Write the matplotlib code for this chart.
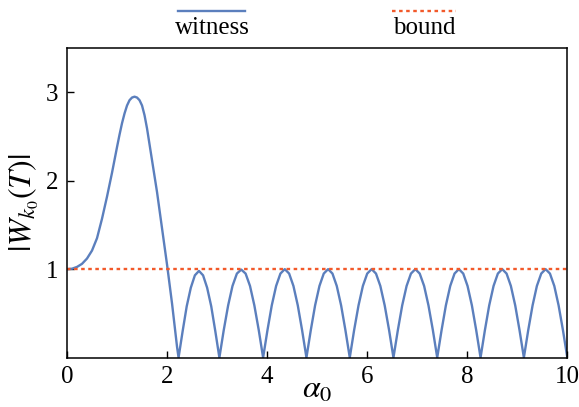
import numpy as np
import matplotlib
matplotlib.use("Agg")
import matplotlib.pyplot as plt
from matplotlib.lines import Line2D

plt.rcParams['font.family'] = 'Liberation Serif'
plt.rcParams['mathtext.fontset'] = 'stix'

# witness curve
# first hump
hump_x = [0.0, 0.1, 0.2, 0.3, 0.4, 0.5, 0.6, 0.7, 0.8, 0.9, 1.0, 1.05, 1.1, 1.15, 1.2, 1.25,
          1.3, 1.35, 1.4, 1.45, 1.5, 1.55, 1.6, 1.7, 1.8, 1.9, 2.0, 2.1, 2.2, 2.23]
hump_y = [1.0, 1.005, 1.025, 1.06, 1.12, 1.21, 1.35, 1.57, 1.82, 2.09, 2.38, 2.52, 2.65, 2.76, 2.85, 2.91,
          2.94, 2.95, 2.94, 2.91, 2.85, 2.74, 2.59, 2.23, 1.87, 1.46, 1.05, 0.61, 0.12, 0.0]

# the oscillating tail (arches between zeros)
tail_x = [2.312, 2.393, 2.475, 2.556, 2.638, 2.72, 2.801, 2.883, 2.964, 3.046,
          3.133, 3.221, 3.308, 3.396, 3.483, 3.57, 3.658, 3.745, 3.833, 3.92,
          4.007, 4.093, 4.18, 4.266, 4.353, 4.44, 4.526, 4.613, 4.699, 4.786,
          4.873, 4.959, 5.046, 5.132, 5.219, 5.306, 5.392, 5.479, 5.565, 5.652,
          5.739, 5.827, 5.914, 6.001, 6.089, 6.176, 6.263, 6.35, 6.438, 6.525,
          6.613, 6.7, 6.788, 6.875, 6.963, 7.05, 7.138, 7.225, 7.313, 7.40,
          7.487, 7.573, 7.66, 7.746, 7.833, 7.92, 8.006, 8.093, 8.179, 8.266,
          8.353, 8.439, 8.526, 8.612, 8.699, 8.786, 8.872, 8.959, 9.045, 9.132,
          9.219, 9.306, 9.392, 9.479, 9.566, 9.653, 9.74, 9.826, 9.913, 10.0]
tail_y = [0.30, 0.58, 0.79, 0.93, 0.98, 0.93, 0.79, 0.58, 0.30, 0.0,
          0.31, 0.59, 0.81, 0.95, 0.995, 0.95, 0.81, 0.59, 0.31, 0.0,
          0.31, 0.59, 0.81, 0.95, 1.0, 0.95, 0.81, 0.59, 0.31, 0.0,
          0.31, 0.59, 0.81, 0.95, 1.0, 0.95, 0.81, 0.59, 0.31, 0.0,
          0.31, 0.59, 0.81, 0.95, 1.0, 0.95, 0.81, 0.59, 0.31, 0.0,
          0.31, 0.59, 0.81, 0.95, 1.0, 0.95, 0.81, 0.59, 0.31, 0.0,
          0.31, 0.59, 0.81, 0.95, 1.0, 0.95, 0.81, 0.59, 0.31, 0.0,
          0.31, 0.59, 0.81, 0.95, 1.0, 0.95, 0.81, 0.59, 0.31, 0.0,
          0.31, 0.59, 0.81, 0.95, 1.0, 0.95, 0.81, 0.59, 0.31, 0.0]

bound_x = [0.0, 10.0]
bound_y = [1.0, 1.0]

x_ticks = [0, 2, 4, 6, 8, 10]
y_ticks = [1, 2, 3]

blue = '#5b7fbd'
orange = '#f2592a'

fig = plt.figure(figsize=(5.79, 4.07), dpi=100)
ax = fig.add_axes([0.1157, 0.1214, 0.8641, 0.7606])

ax.plot(hump_x + tail_x, hump_y + tail_y, color=blue, lw=1.7, solid_joinstyle='round')
ax.plot(bound_x, bound_y, color=orange, lw=1.7, ls=(0, (1.5, 1.5)))

ax.set_xlim(0, 10)
ax.set_ylim(0, 3.5)
ax.set_xticks(x_ticks)
ax.set_yticks(y_ticks)
ax.tick_params(direction='in', length=5, width=1, labelsize=18, pad=6)
for s in ax.spines.values():
    s.set_linewidth(1.1)

ax.set_xlabel(r'$\alpha_0$', fontsize=23, labelpad=-9)
ax.set_ylabel(r'$|W_{k_0}(T)|$', fontsize=23, labelpad=4)

# legend above the axes, handle over label
fig.add_artist(Line2D([178/579, 245/579], [1-11/407, 1-11/407], color=blue, lw=1.7))
fig.text(212/579, 1-28/407, 'witness', ha='center', va='center', fontsize=18)
fig.add_artist(Line2D([392/579, 456/579], [1-11/407, 1-11/407], color=orange, lw=1.7,
                      ls=(0, (1.5, 1.5))))
fig.text(424/579, 1-28/407, 'bound', ha='center', va='center', fontsize=18)

fig.savefig('out.png', dpi=100)
